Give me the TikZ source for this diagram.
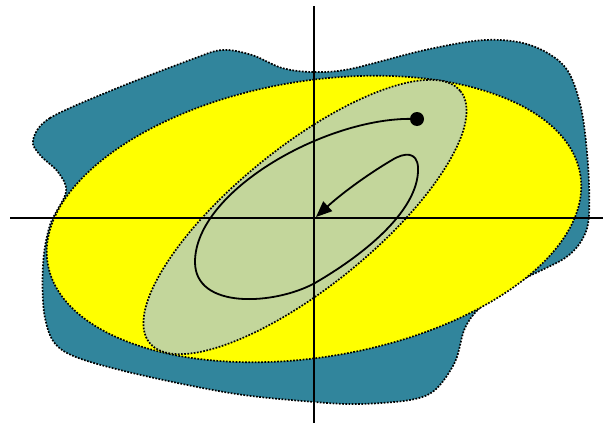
\documentclass[tikz,border=0pt]{standalone}
\usetikzlibrary{arrows.meta}
\definecolor{blobteal}{HTML}{31859C}
\definecolor{ovalyellow}{HTML}{FFFF00}
\definecolor{ovalgreen}{HTML}{C3D69B}
\tikzset{
  region/.style={draw=black, line width=1.7pt, dash pattern=on 1.7pt off 1.5pt},
  axisline/.style={draw=black, line width=1.5pt},
  path/.style={draw=black, line width=1.8pt, -{Triangle[length=16pt, width=13pt]}},
  startdot/.style={circle, fill=black, inner sep=0pt, minimum size=14pt}}

\begin{document}
\begin{tikzpicture}[x=1pt, y=-1pt]
    \useasboundingbox (0,0) rectangle (603,423);
    % outer region
    \draw[region, fill=blobteal] plot[smooth cycle, tension=0.55] coordinates {
      (33,140) (50,118) (115,89) (190,60) (222,50) (252,55) (282,68) (313,72)
      (350,69) (425,50) (485,40) (530,45) (565,67) (581,108) (588,165) (589,215)
      (583,238) (565,258) (520,281) (482,306) (465,328) (455,362) (435,390)
      (410,400) (360,404) (315,402) (230,393) (120,370) (62,350) (45,318)
      (43,265) (50,225) (66,192) (58,172) (40,155)};
    % middle and inner regions
    \draw[region, fill=ovalyellow] (314,219) ellipse [x radius=270, y radius=138, rotate=9.5];
    \draw[region, fill=ovalgreen] (305,217) ellipse [x radius=200, y radius=70, rotate=39];
    % axes
    \coordinate (xl) at (10,218);
    \coordinate (xr) at (603,218);
    \coordinate (yt) at (314,6);
    \coordinate (yb) at (314,423);
    \draw[axisline] (xl) -- (xr);
    \draw[axisline] (yt) -- (yb);
    % trajectory
    \node[startdot] (start) at (417,119) {};
    \coordinate (finish) at (316,217);
    \draw[path] (start.center) .. controls (330,115) and (195,190) .. (195,262)
      .. controls (195,310) and (275,305) .. (315,283)
      .. controls (375,248) and (420,205) .. (418,167)
      .. controls (417,152) and (405,152) .. (392,160)
      .. controls (365,176) and (340,195) .. (finish);
\end{tikzpicture}
\end{document}
